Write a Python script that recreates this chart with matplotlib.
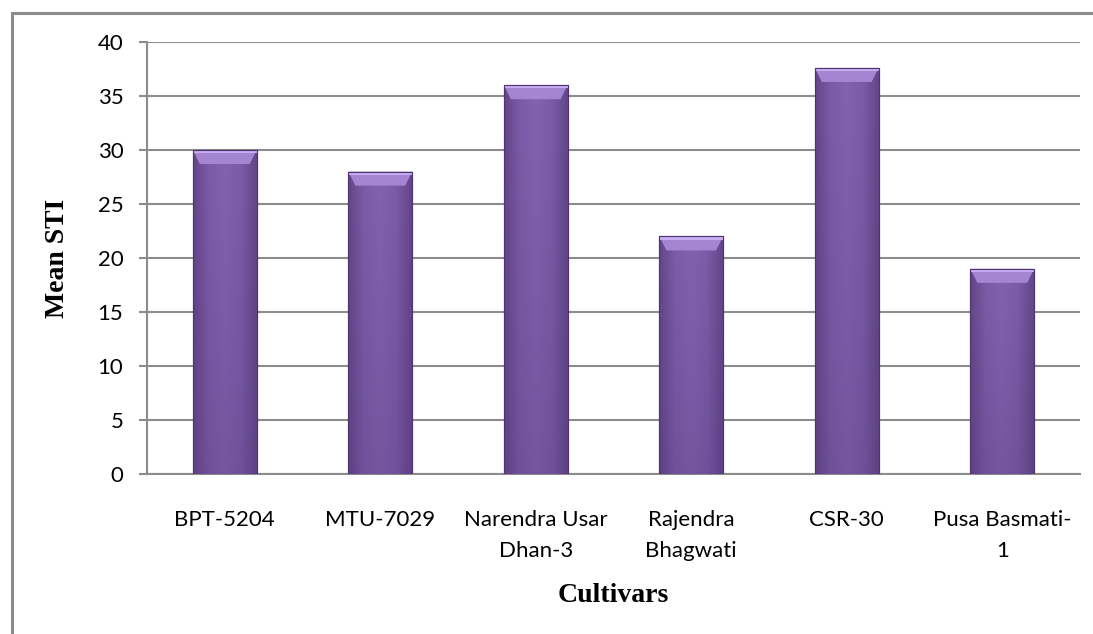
import numpy as np
import matplotlib
matplotlib.use("Agg")
import matplotlib.pyplot as plt
from matplotlib.patches import Rectangle, Polygon
from matplotlib.colors import LinearSegmentedColormap

cultivars = ["BPT-5204", "MTU-7029", "Narendra Usar\nDhan-3", "Rajendra\nBhagwati",
             "CSR-30", "Pusa Basmati-\n1"]
mean_sti = [30.0, 28.0, 36.0, 22.0, 37.6, 19.0]
yticks = [0, 5, 10, 15, 20, 25, 30, 35, 40]

W, H = 1093, 634
fig = plt.figure(figsize=(W / 100, H / 100), dpi=100)
ax = fig.add_axes([147 / W, 1 - 474 / H, (1080 - 147) / W, (474 - 42) / H])

# outer chart frame (runs off the right and bottom edges)
fig.patches.append(Rectangle((12 / W, -0.1), 1.2, 1 - 13 / H + 0.1,
                             transform=fig.transFigure, fill=False,
                             edgecolor="#8c8c8c", linewidth=2.2))

x = np.arange(len(cultivars))
bw = 0.41
bars = ax.bar(x, mean_sti, width=bw, color="#7f5fad", edgecolor="#4e3570",
              linewidth=0.8, zorder=3)

# soft shading across each bar plus a light bevel at the top
shade = LinearSegmentedColormap.from_list(
    "shade", ["#634689", "#7c5ca8", "#8263af", "#7c5ca8", "#634689"])
fade = LinearSegmentedColormap.from_list(
    "fade", [(0.3, 0.2, 0.45, 0.0), (0.3, 0.2, 0.45, 0.25)])
grad = np.linspace(0, 1, 256).reshape(1, -1)
vgrad = np.linspace(0, 1, 64).reshape(-1, 1)
for b, v in zip(bars, mean_sti):
    x0 = b.get_x()
    im = ax.imshow(grad, cmap=shade, aspect="auto", zorder=3.5,
                   extent=[x0, x0 + bw, 0, v])
    im.set_clip_path(b)
    im2 = ax.imshow(vgrad, cmap=fade, aspect="auto", zorder=3.6,
                    extent=[x0, x0 + bw, 0, v])
    im2.set_clip_path(b)
    d = 0.045
    ax.add_patch(Polygon([(x0, v), (x0 + bw, v), (x0 + bw - d, v - 1.3),
                          (x0 + d, v - 1.3)], closed=True,
                         facecolor="#a485d2", edgecolor="none", zorder=3.7))
    ax.add_patch(Rectangle((x0, v - 0.3), bw, 0.3,
                           facecolor="#c6acf0", edgecolor="none", zorder=3.8))
    ax.add_patch(Rectangle((x0, 0), bw, v, fill=False,
                           edgecolor="#4e3570", linewidth=0.8, zorder=4))

ax.set_xlim(-0.5, len(cultivars) - 0.5)
ax.set_ylim(0, 40)
ax.set_yticks(yticks)
ax.set_xticks(x)
ax.set_xticklabels(cultivars, fontfamily="Lato", fontsize=16, linespacing=1.65)
ax.set_yticklabels([str(t) for t in yticks], fontfamily="Lato", fontsize=16)
ax.tick_params(axis="x", length=0, pad=26)
ax.tick_params(axis="y", length=6, width=1.5, color="#8c8c8c", pad=11)

ax.grid(axis="y", color="#8c8c8c", linewidth=1.5, zorder=0)
ax.set_axisbelow(True)
for s in ["top", "right"]:
    ax.spines[s].set_visible(False)
ax.spines["left"].set_color("#8c8c8c")
ax.spines["left"].set_linewidth(1.5)
ax.spines["bottom"].set_color("#8c8c8c")
ax.spines["bottom"].set_linewidth(1.5)

ax.set_ylabel("Mean STI", fontfamily="Liberation Serif", fontweight="bold",
              fontsize=20, labelpad=20)
ax.set_xlabel("Cultivars", fontfamily="Liberation Serif", fontweight="bold",
              fontsize=20, labelpad=16)

fig.savefig("out.png", dpi=100)
